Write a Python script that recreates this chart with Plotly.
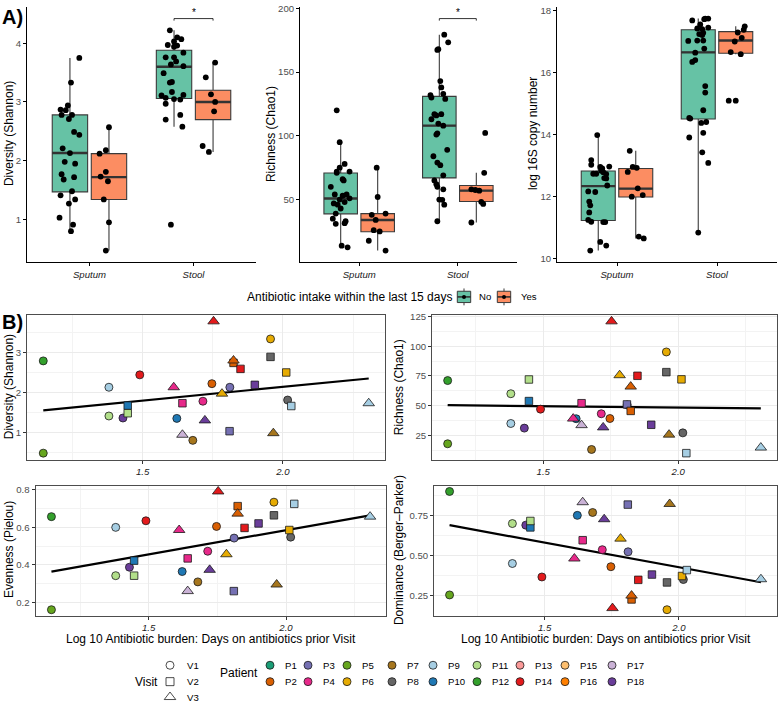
import numpy as np
import plotly.graph_objects as go

W, H = 778, 703
FONT = "Liberation Sans, Arial, Helvetica, sans-serif"

# ================= Panel A data =================
sample_types = ["Sputum", "Stool"]
intake_levels = ["No", "Yes"]
intake_colors = ["#66C2A5", "#FC8D62"]
# group order: Sputum/No, Sputum/Yes, Stool/No, Stool/Yes

shannon_q1 = [1.47, 1.34, 3.06, 2.70]
shannon_med = [2.13, 1.72, 3.60, 3.00]
shannon_q3 = [2.78, 2.12, 3.88, 3.20]
shannon_lo = [0.80, 0.47, 2.58, 2.15]
shannon_hi = [3.75, 2.57, 4.22, 3.67]
shannon_pts = [
    [3.75, 3.33, 2.94, 2.87, 2.86, 2.78, 2.78, 2.71, 2.49, 2.44, 2.21, 2.13, 1.98, 1.95, 1.77, 1.68, 1.72, 1.48,
     1.41, 1.34, 1.27, 1.03, 0.91, 0.80],
    [2.57, 2.18, 2.12, 1.81, 1.73, 1.65, 1.34, 0.95, 0.47],
    [4.22, 4.10, 4.07, 4.03, 3.97, 3.96, 3.94, 3.84, 3.76, 3.76, 3.69, 3.64, 3.61, 3.49, 3.34, 3.33, 3.17, 3.12,
     3.11, 3.07, 3.05, 3.04, 2.97, 2.78, 2.70, 2.58, 0.91],
    [3.67, 3.42, 3.13, 3.00, 2.84, 2.25, 2.15],
]
shannon_jit = [
    [0.09, 0.01, -0.02, -0.09, -0.04, -0.08, 0.02, -0.01, 0.04, 0.09, -0.07, 0.00, -0.05, 0.05, -0.08, -0.06, 0.04,
     0.02, -0.09, 0.05, -0.01, -0.10, 0.03, 0.01],
    [0.00, -0.03, -0.09, -0.03, -0.08, -0.01, -0.05, 0.00, -0.03],
    [-0.04, 0.03, 0.07, 0.00, -0.06, 0.03, 0.00, 0.09, -0.08, 0.00, 0.02, -0.03, 0.09, -0.10, -0.02, -0.04, -0.02,
     0.09, -0.12, -0.08, 0.00, 0.06, -0.08, 0.06, -0.08, 0.08, -0.03],
    [0.02, -0.07, -0.02, 0.02, 0.01, -0.10, -0.04],
]

chao1_q1 = [38.8, 24.7, 67.0, 48.5]
chao1_med = [50.8, 34.0, 108.0, 57.0]
chao1_q3 = [70.8, 39.0, 131.0, 61.0]
chao1_lo = [12.5, 10.0, 33.0, 32.0]
chao1_hi = [95.0, 75.0, 179.4, 71.0]
chao1_pts = [
    [120, 95, 78, 75, 72, 72, 71, 66, 65, 60, 54, 54, 53, 51, 50, 47, 48, 46, 43, 39, 31, 33, 31.5, 35, 13.8, 12.5],
    [75, 52, 38, 39, 34, 26, 25, 17.7, 10],
    [179.4, 173.4, 168, 167.4, 143, 138, 133, 132, 130, 129, 117, 117, 116, 113, 109.6, 108, 102, 101, 89, 84, 79,
     77, 69, 65, 62, 60, 58, 50, 49.8, 46, 33],
    [102.3, 71, 58, 57.5, 57, 48.2, 46.6, 32],
]
chao1_jit = [
    [-0.04, -0.01, 0.04, -0.01, -0.04, 0.09, -0.04, 0.02, 0.03, -0.10, -0.06, 0.06, 0.02, 0.09, -0.01, -0.07, 0.04,
     -0.03, 0.00, -0.05, -0.05, 0.05, 0.04, -0.08, 0.01, 0.07],
    [-0.01, 0.00, -0.06, 0.08, -0.02, -0.04, 0.02, -0.09, 0.08],
    [0.05, 0.09, -0.01, -0.02, 0.01, 0.02, 0.04, -0.09, -0.08, 0.06, -0.05, 0.02, -0.03, -0.08, -0.01, 0.04, -0.02,
     -0.03, 0.08, -0.06, -0.02, 0.01, 0.04, -0.05, -0.03, -0.02, 0.04, 0.00, 0.03, 0.05, -0.02],
    [0.09, 0.08, -0.05, -0.01, 0.03, 0.05, 0.07, -0.05],
]

copies_q1 = [11.22, 11.98, 14.50, 16.62]
copies_med = [12.33, 12.25, 16.65, 17.03]
copies_q3 = [12.82, 12.90, 17.38, 17.32]
copies_lo = [10.25, 10.64, 10.83, 16.59]
copies_hi = [13.98, 13.47, 17.74, 17.49]
copies_pts = [
    [13.98, 13.17, 13.02, 12.96, 12.95, 12.90, 12.83, 12.78, 12.73, 12.73, 12.72, 12.59, 12.58, 12.35, 12.16, 12.14,
     11.83, 11.71, 11.48, 11.24, 11.18, 11.17, 11.17, 10.53, 10.41, 10.25],
    [13.47, 12.95, 12.92, 12.79, 12.26, 12.04, 11.99, 10.70, 10.64],
    [17.68, 17.72, 17.74, 17.74, 17.55, 17.42, 17.45, 17.40, 17.24, 17.21, 17.28, 17.02, 17.03, 17.03, 16.77, 16.64,
     16.40, 16.34, 15.56, 15.35, 14.78, 14.51, 14.53, 14.40, 14.37, 13.90, 14.05, 13.42, 13.08, 10.83],
    [17.49, 17.38, 17.29, 17.12, 17.00, 16.66, 16.59, 15.09, 15.09],
]
copies_jit = [
    [-0.01, -0.07, -0.07, 0.11, 0.02, 0.04, 0.03, 0.05, -0.05, -0.02, 0.08, 0.06, 0.08, 0.09, -0.10, -0.03, -0.09,
     -0.08, -0.09, -0.10, -0.07, 0.05, 0.07, 0.02, 0.08, -0.08],
    [-0.06, -0.03, 0.01, -0.08, 0.02, 0.07, -0.04, 0.03, 0.08],
    [-0.06, 0.06, 0.07, 0.10, 0.02, -0.01, 0.10, 0.04, 0.01, 0.04, 0.05, -0.10, -0.01, 0.05, 0.06, -0.03, -0.03,
     -0.06, 0.07, 0.07, 0.05, -0.08, -0.09, 0.08, 0.03, -0.09, 0.05, 0.04, 0.10, 0.00],
    [0.09, 0.08, 0.02, 0.06, -0.01, -0.05, 0.05, -0.07, 0.00],
]

# significance bracket height (Stool: No vs Yes), None = no bracket
sig_level = [4.42, 192.0, None]

# ================= Panel B data =================
b_patient = ["P12", "P5", "P9", "P11", "P18", "P14", "P10", "P7", "P4", "P2", "P3", "P6", "P8",
             "P10", "P11", "P4", "P3", "P2", "P14", "P18", "P8", "P6", "P9",
             "P4", "P17", "P18", "P14", "P6", "P2", "P7", "P9"]
b_visit = ["V1"] * 13 + ["V2"] * 10 + ["V3"] * 8
b_burden = [1.146, 1.146, 1.380, 1.380, 1.430, 1.490, 1.622, 1.679, 1.715, 1.747, 1.811, 1.956, 2.017,
            1.447, 1.447, 1.642, 1.810, 1.824, 1.849, 1.900, 1.956, 2.012, 2.030,
            1.611, 1.642, 1.722, 1.753, 1.783, 1.824, 1.966, 2.306]
b_shannon = [2.80, 0.49, 2.14, 1.42, 1.37, 2.45, 1.36, 0.81, 1.79, 2.23, 2.14, 3.35, 1.82,
             1.68, 1.49, 1.74, 1.04, 2.75, 2.60, 2.20, 2.90, 2.51, 1.67,
             2.14, 0.95, 1.31, 3.79, 1.98, 2.81, 0.99, 1.74]
b_chao1 = [71.1, 17.8, 34.9, 60.0, 31.0, 47.0, 38.9, 13.0, 43.1, 39.1, 50.5, 95.2, 27.0,
           53.8, 72.0, 52.0, 51.0, 45.5, 75.1, 33.8, 78.2, 72.1, 9.9,
           39.0, 33.5, 31.6, 121.0, 75.6, 66.0, 25.5, 14.6]
b_pielou = [0.657, 0.162, 0.600, 0.343, 0.388, 0.635, 0.365, 0.310, 0.473, 0.605, 0.543, 0.734, 0.548,
            0.423, 0.343, 0.435, 0.261, 0.713, 0.597, 0.621, 0.664, 0.586, 0.725,
            0.586, 0.261, 0.374, 0.791, 0.457, 0.673, 0.296, 0.657]
b_berger = [0.900, 0.255, 0.451, 0.700, 0.690, 0.367, 0.751, 0.769, 0.537, 0.431, 0.524, 0.163, 0.351,
            0.676, 0.716, 0.596, 0.818, 0.227, 0.349, 0.382, 0.333, 0.373, 0.410,
            0.482, 0.833, 0.727, 0.173, 0.606, 0.251, 0.822, 0.353]

patients = ["P%d" % i for i in range(1, 19)]
patient_colors = ["#1B9E77", "#D95F02", "#7570B3", "#E7298A", "#66A61E", "#E6AB02", "#A6761D", "#666666",
                  "#A6CEE3", "#1F78B4", "#B2DF8A", "#33A02C", "#FB9A99", "#E31A1C", "#FDBF6F", "#FF7F00",
                  "#CAB2D6", "#6A3D9A"]
visits = ["V1", "V2", "V3"]
visit_symbols = ["circle", "square", "triangle-up"]
visit_sizes = [8, 7.5, 10]

b_titles = ["Diversity (Shannon)", "Richness (Chao1)", "Evenness (Pielou)", "Dominance (Berger\u2013Parker)"]
x_title = "Log 10 Antibiotic burden: Days on antibiotics prior Visit"

# ================= Figure =================
fig = go.Figure()
pcol = dict(zip(patients, patient_colors))
vsym = dict(zip(visits, visit_symbols))
vsize = dict(zip(visits, visit_sizes))

A_axes = [("x", "y"), ("x2", "y2"), ("x3", "y3")]
A_sets = [
    (shannon_q1, shannon_med, shannon_q3, shannon_lo, shannon_hi, shannon_pts, shannon_jit),
    (chao1_q1, chao1_med, chao1_q3, chao1_lo, chao1_hi, chao1_pts, chao1_jit),
    (copies_q1, copies_med, copies_q3, copies_lo, copies_hi, copies_pts, copies_jit),
]
dodge = 0.1875
box_w = 0.34
A_ranges = []
for k, (xa, ya) in enumerate(A_axes):
    q1, med, q3, lo, hi, pts, jit = A_sets[k]
    allv = [v for g in pts for v in g]
    top = max(allv) if sig_level[k] is None else max(max(allv), sig_level[k])
    bot = min(allv)
    pad = (top - bot) * 0.05
    A_ranges.append([bot - pad, top + pad])
    for g in range(4):
        pos = (1 + g // 2) + (-dodge if g % 2 == 0 else dodge)
        col = intake_colors[g % 2]
        fig.add_trace(go.Box(x=[pos], q1=[q1[g]], median=[med[g]], q3=[q3[g]], lowerfence=[lo[g]],
                             upperfence=[hi[g]], orientation="v", width=box_w, fillcolor=col,
                             line=dict(color="#3a3a3a", width=1.1), whiskerwidth=0, boxpoints=False,
                             xaxis=xa, yaxis=ya, showlegend=False, hoverinfo="skip"))
        fig.add_trace(go.Scatter(x=[pos - box_w / 2, pos + box_w / 2], y=[med[g], med[g]], mode="lines",
                                 line=dict(color="#333333", width=2.4), xaxis=xa, yaxis=ya,
                                 showlegend=False, hoverinfo="skip"))
        fig.add_trace(go.Scatter(x=[pos + j for j in jit[g]], y=pts[g], mode="markers",
                                 marker=dict(color="black", size=5.8), xaxis=xa, yaxis=ya,
                                 showlegend=False))
    if sig_level[k] is not None:
        b = sig_level[k]
        t = (A_ranges[k][1] - A_ranges[k][0]) * 0.008
        x0, x1 = 2 - dodge, 2 + dodge
        fig.add_trace(go.Scatter(x=[x0, x0, x1, x1], y=[b - t, b, b, b - t], mode="lines",
                                 line=dict(color="black", width=0.8), xaxis=xa, yaxis=ya,
                                 showlegend=False, hoverinfo="skip"))

B_axes = [("x4", "y4"), ("x5", "y5"), ("x6", "y6"), ("x7", "y7")]
B_vals = [b_shannon, b_chao1, b_pielou, b_berger]
B_ranges = []
xpad = (max(b_burden) - min(b_burden)) * 0.05
B_xrange = [min(b_burden) - xpad, max(b_burden) + xpad]
for k, (xa, ya) in enumerate(B_axes):
    vals = B_vals[k]
    pad = (max(vals) - min(vals)) * 0.05
    B_ranges.append([min(vals) - pad, max(vals) + pad])
    coef = np.polyfit(b_burden, vals, 1)
    xs = np.array([min(b_burden), max(b_burden)])
    fig.add_trace(go.Scatter(x=xs, y=np.polyval(coef, xs), mode="lines", line=dict(color="black", width=2.2),
                             xaxis=xa, yaxis=ya, showlegend=False, hoverinfo="skip"))
    fig.add_trace(go.Scatter(
        x=b_burden, y=vals, mode="markers", xaxis=xa, yaxis=ya, showlegend=False,
        text=[p + " " + v for p, v in zip(b_patient, b_visit)],
        marker=dict(color=[pcol[p] for p in b_patient], symbol=[vsym[v] for v in b_visit],
                    size=[vsize[v] for v in b_visit], line=dict(color="#1a1a1a", width=0.8), opacity=1)))

# ---- manual legends on a hidden, transparent full-figure axis ----
vis_x = 170
vis_y = [666, 682.5, 698]
fig.add_trace(go.Scatter(x=[vis_x] * 3, y=vis_y, mode="markers", xaxis="x8", yaxis="y8", showlegend=False,
                         hoverinfo="skip", cliponaxis=False,
                         marker=dict(symbol=[s + "-open" for s in visit_symbols], size=[8, 8, 10],
                                     color="black", line=dict(width=1))))
leg_cols = [270, 308, 347, 392, 433, 477, 520, 565, 612]
leg_rows = [666, 682.5]
lx, ly = [], []
for i, p in enumerate(patients):
    lx.append(leg_cols[i // 2])
    ly.append(leg_rows[i % 2])
fig.add_trace(go.Scatter(x=lx, y=ly, mode="markers", xaxis="x8", yaxis="y8", showlegend=False, hoverinfo="skip",
                         cliponaxis=False,
                         marker=dict(symbol="circle", size=8, color=patient_colors,
                                     line=dict(color="#1a1a1a", width=0.8))))


def dom_x(a, b):
    return [a / W, b / W]


def dom_y(top, bottom):
    return [1 - bottom / H, 1 - top / H]


ytick_font = dict(family=FONT, size=9.6, color="#4D4D4D")
xtick_font = dict(family=FONT, size=9.6, color="#1A1A1A", style="italic")

layout = dict(width=W, height=H, margin=dict(l=0, r=0, t=0, b=0), autosize=False,
              paper_bgcolor="white", plot_bgcolor="rgba(0,0,0,0)", showlegend=False,
              font=dict(family=FONT, size=12, color="black"))

A_dom_x = [dom_x(27, 256), dom_x(300, 517), dom_x(557, 777)]
A_dom_y = dom_y(3, 260)
A_dticks = [1, 50, 2]
for k in range(3):
    sx = "" if k == 0 else str(k + 1)
    layout["xaxis" + sx] = dict(domain=A_dom_x[k], anchor="y" + sx, range=[0.4, 2.6], tickmode="array",
                                tickvals=[1, 2], ticktext=sample_types, showline=True, linecolor="black",
                                linewidth=1, ticks="outside", ticklen=3, tickcolor="black", showgrid=False,
                                zeroline=False, tickfont=xtick_font)
    layout["yaxis" + sx] = dict(domain=A_dom_y, anchor="x" + sx, range=A_ranges[k], tick0=0, dtick=A_dticks[k],
                                showline=True, linecolor="black", linewidth=1, ticks="outside", ticklen=3,
                                tickcolor="black", showgrid=False, zeroline=False, tickfont=ytick_font)

B_dom_x = [dom_x(27, 385), dom_x(432, 776.5), dom_x(35.5, 386), dom_x(434, 776.5)]
B_dom_y = [dom_y(313, 459), dom_y(313, 459), dom_y(485, 616), dom_y(485, 616)]
B_dticks = [1, 25, 0.2, 0.25]
B_formats = ["d", "d", ".1f", ".2f"]
for k in range(4):
    sx = str(k + 4)
    layout["xaxis" + sx] = dict(domain=B_dom_x[k], anchor="y" + sx, range=B_xrange, tick0=0, dtick=0.5,
                                tickformat=".1f", showline=True, mirror=True, linecolor="#4d4d4d", linewidth=0.9,
                                ticks="outside", ticklen=3, tickcolor="#333333", showgrid=True,
                                gridcolor="#EBEBEB", gridwidth=1, zeroline=False, tickfont=xtick_font,
                                minor=dict(dtick=0.25, tick0=0, showgrid=True, gridcolor="#F3F3F3", gridwidth=0.6))
    layout["yaxis" + sx] = dict(domain=B_dom_y[k], anchor="x" + sx, range=B_ranges[k], tick0=0, dtick=B_dticks[k],
                                tickformat=B_formats[k], showline=True, mirror=True, linecolor="#4d4d4d",
                                linewidth=0.9, ticks="outside", ticklen=3, tickcolor="#333333", showgrid=True,
                                gridcolor="#EBEBEB", gridwidth=1, zeroline=False, tickfont=ytick_font,
                                minor=dict(dtick=B_dticks[k] / 2, tick0=0, showgrid=True, gridcolor="#F3F3F3",
                                           gridwidth=0.6))

layout["xaxis8"] = dict(domain=[0, 1], anchor="y8", range=[0, W], visible=False, fixedrange=True)
layout["yaxis8"] = dict(domain=[0, 1], anchor="x8", range=[H, 0], visible=False, fixedrange=True)


def ann(text, x, y, size=12, angle=0, xanchor="center", bold=False, color="black", style="normal"):
    return dict(text=text, x=x / W, y=1 - y / H, xref="paper", yref="paper", showarrow=False,
                textangle=angle, xanchor=xanchor, yanchor="middle",
                font=dict(family=FONT, size=size, color=color, weight=700 if bold else 400, style=style))


anns = [
    ann("A)", 0, 13, size=20, xanchor="left", bold=True),
    ann("B)", 0, 320, size=20, xanchor="left", bold=True),
    ann("Diversity (Shannon)", 9, 131, angle=-90),
    ann("Richness (Chao1)", 271, 131, angle=-90),
    ann("log 16S copy number", 533, 131, angle=-90),
    ann(b_titles[0], 9, 386, angle=-90),
    ann(b_titles[1], 399, 386, angle=-90),
    ann(b_titles[2], 9, 550, angle=-90),
    ann(b_titles[3], 399, 550, angle=-90),
    ann(x_title, 210.7, 640),
    ann(x_title, 605.5, 640),
    ann("Antibiotic intake within the last 15 days", 245, 295, xanchor="left"),
    ann(intake_levels[0], 477, 295, size=9.6, xanchor="left"),
    ann(intake_levels[1], 519, 295, size=9.6, xanchor="left"),
    ann("Visit", 133, 682.5, xanchor="left"),
    ann("Patient", 218, 674, xanchor="left"),
]
for k in range(2):
    xa = A_axes[k][0]
    ya = A_axes[k][1]
    anns.append(dict(text="*", x=2, y=sig_level[k], xref=xa, yref=ya, showarrow=False, yshift=6,
                     font=dict(family=FONT, size=10, color="black")))
for i, v in enumerate(visits):
    anns.append(ann(v, vis_x + 15, vis_y[i], size=9.6, xanchor="left"))
for i, p in enumerate(patients):
    anns.append(ann(p, lx[i] + 13, ly[i], size=9.6, xanchor="left"))
layout["annotations"] = anns

# legend keys for the boxplot fill legend
shapes = []
key_cx = [464, 504]
for i in range(2):
    cx, cy = key_cx[i], 295
    shapes.append(dict(type="line", xref="paper", yref="paper", x0=cx / W, x1=cx / W, y0=1 - 303.5 / H,
                       y1=1 - 286.5 / H, line=dict(color="#3a3a3a", width=1)))
    shapes.append(dict(type="rect", xref="paper", yref="paper", x0=(cx - 6.7) / W, x1=(cx + 6.7) / W,
                       y0=1 - 300.7 / H, y1=1 - 289.3 / H, fillcolor=intake_colors[i],
                       line=dict(color="#3a3a3a", width=1)))
    shapes.append(dict(type="line", xref="paper", yref="paper", x0=(cx - 6.7) / W, x1=(cx + 6.7) / W,
                       y0=1 - cy / H, y1=1 - cy / H, line=dict(color="#333333", width=1.6)))
    shapes.append(dict(type="circle", xref="paper", yref="paper", x0=(cx - 2) / W, x1=(cx + 2) / W,
                       y0=1 - (cy + 2) / H, y1=1 - (cy - 2) / H, fillcolor="black", line=dict(width=0)))
layout["shapes"] = shapes

fig.update_layout(**layout)
fig.write_html("out.html", config={"displayModeBar": False},
               post_script="document.body.style.margin='0';document.body.style.overflow='hidden';")
